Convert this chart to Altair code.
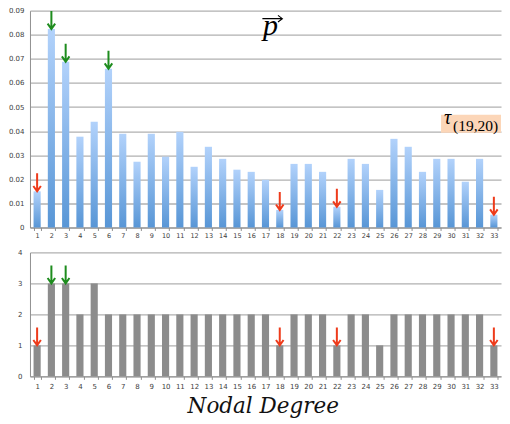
import altair as alt
import pandas as pd

# ---- data ----
nodes = list(range(1, 34))
p_values = [0.0150, 0.0824, 0.0688, 0.0377, 0.0439, 0.0659, 0.0389, 0.0273, 0.0389, 0.0294,
            0.0397, 0.0252, 0.0335, 0.0285, 0.0240, 0.0231, 0.0198, 0.0073, 0.0264, 0.0264,
            0.0231, 0.0086, 0.0285, 0.0264, 0.0156, 0.0368, 0.0335, 0.0231, 0.0285, 0.0285,
            0.0190, 0.0285, 0.0053]
degrees = [1, 3, 3, 2, 3, 2, 2, 2, 2, 2, 2, 2, 2, 2, 2, 2, 2, 1, 2, 2, 2, 1, 2, 2, 1, 2, 2, 2,
           2, 2, 2, 2, 1]
green_top = [2, 3, 6]
red_top = [1, 18, 22, 33]
green_bottom = [2, 3]
red_bottom = [1, 18, 22, 33]
y_ticks_top = [0, 0.01, 0.02, 0.03, 0.04, 0.05, 0.06, 0.07, 0.08, 0.09]
y_ticks_bottom = [0, 1, 2, 3, 4]
vec_label = "p"
tau_label = "τ"
tau_sub = "(19,20)"
x_title = "Nodal Degree"


def arrow_of(n, greens, reds):
    if n in greens:
        return "green"
    if n in reds:
        return "red"
    return ""


df = pd.DataFrame({
    "node": nodes,
    "p": p_values,
    "degree": degrees,
    "top_arrow": [arrow_of(n, green_top, red_top) for n in nodes],
    "bot_arrow": [arrow_of(n, green_bottom, red_bottom) for n in nodes],
})

W = 471.5
H_TOP = 217
H_BOT = 124
GRID = "#b0b0b0"
LABEL = "#404040"
ARROW_PATH = "M0,-2L0,-0.15M-0.42,-0.6L0,0L0.42,-0.6"
arrow_colors = alt.Scale(domain=["green", "red"], range=["#1e8c1e", "#ee3b1b"])

xscale = alt.Scale(paddingInner=0.5, paddingOuter=0.25)

x_axis_common = dict(labelAngle=0, tickBand="extent", tickSize=3, tickColor="#909090",
                     domainColor="#909090", labelFont="DejaVu Sans", labelColor=LABEL,
                     grid=False, labelOverlap=False)
x_axis_top = alt.Axis(title=None, labelFontSize=6.5, labelPadding=2, **x_axis_common)
x_axis_bot = alt.Axis(title=x_title, titleFont="DejaVu Serif", titleFontStyle="italic",
                      titleFontWeight="normal", titleFontSize=21.5, titleColor="#111111",
                      titleY=36, titleX=233, titleAlign="center",
                      titleBaseline="alphabetic", labelFontSize=7, labelPadding=3,
                      **x_axis_common)

top_y_scale = alt.Scale(domain=[0, 0.09], nice=False, zero=True)
y_axis_top = alt.Axis(values=y_ticks_top, tickCount=30, title=None, ticks=False,
                      labelPadding=6, labelFont="DejaVu Sans", labelFontSize=7,
                      labelColor=LABEL, labelOverlap=False,
                      labelExpr="datum.value == 0 ? '0' : format(datum.value, '.2f')",
                      gridColor=GRID, gridWidth=1.3, domainColor="#909090")

bot_y_scale = alt.Scale(domain=[0, 4], nice=False)
y_axis_bot = alt.Axis(values=y_ticks_bottom, tickCount=30, format="d", title=None,
                      ticks=False, labelPadding=8, labelFont="DejaVu Sans", labelFontSize=7,
                      labelColor=LABEL, labelOverlap=False,
                      gridColor=GRID, gridWidth=1.3, domainColor="#909090")


def xt(field="node:O"):
    return alt.X(field, sort=nodes, scale=xscale, axis=x_axis_top)


def xb(field="node:O"):
    return alt.X(field, sort=nodes, scale=xscale, axis=x_axis_bot)


def yt(field):
    return alt.Y(field, scale=top_y_scale, axis=y_axis_top)


def yb(field):
    return alt.Y(field, scale=bot_y_scale, axis=y_axis_bot)


# ---- top panel ----
bars_top = alt.Chart(df).mark_bar(
    color=alt.Gradient(gradient="linear",
                       stops=[alt.GradientStop(color="#b2d2fb", offset=0),
                              alt.GradientStop(color="#5896d6", offset=1)],
                       x1=1, x2=1, y1=0, y2=1)
).encode(x=xt(), y=yt("p:Q"))

arrows_top = alt.Chart(df).transform_filter("datum.top_arrow != ''").mark_point(
    shape=ARROW_PATH, size=324, filled=False, strokeWidth=2, opacity=1
).encode(x=xt(), y=yt("p:Q"),
         color=alt.Color("top_arrow:N", scale=arrow_colors, legend=None))

ann = pd.DataFrame({"node": [17], "p_y": [0.09], "arr_y": [0.0867],
                    "tau_node": [32], "tau_y": [0.0431], "sub_y": [0.0402]})
ann_base = alt.Chart(ann)

p_text = ann_base.mark_text(text=vec_label, font="Liberation Serif", fontStyle="italic",
                            fontSize=30, align="center", baseline="top", dx=5,
                            color="#000000").encode(x=xt(), y=yt("p_y:Q"))

p_arrow = ann_base.mark_point(shape="M-0.31,0L1.69,0M1.25,-0.33L1.69,0L1.25,0.33",
                              size=400, filled=False, strokeWidth=1.1, color="#000000",
                              opacity=1, clip=True).encode(x=xt(), y=yt("arr_y:Q"))

tau_bg = ann_base.mark_point(shape="M-2.143,-0.5L1.25,-0.5L1.25,0.5L-2.143,0.5Z",
                             size=1296, filled=True, color="#fcd6b8", opacity=1,
                             strokeWidth=0, clip=True).encode(x=xt("tau_node:O"),
                                                              y=yt("tau_y:Q"))

tau_t = ann_base.mark_text(text=tau_label, font="Liberation Serif", fontStyle="italic",
                           fontSize=20, align="center", baseline="alphabetic", dx=-32,
                           color="#000000", clip=True).encode(x=xt("tau_node:O"),
                                                              y=yt("tau_y:Q"))

tau_s = ann_base.mark_text(text=tau_sub, font="Liberation Serif", fontSize=15.5,
                           align="left", baseline="alphabetic", dx=-26.5,
                           color="#000000", clip=True).encode(x=xt("tau_node:O"),
                                                              y=yt("sub_y:Q"))

top = alt.layer(bars_top, arrows_top, tau_bg, tau_t, tau_s, p_text, p_arrow).properties(
    width=W, height=H_TOP)

# ---- bottom panel ----
bars_bot = alt.Chart(df).mark_bar(color="#8c8c8c").encode(x=xb(), y=yb("degree:Q"))

arrows_bot = alt.Chart(df).transform_filter("datum.bot_arrow != ''").mark_point(
    shape=ARROW_PATH, size=324, filled=False, strokeWidth=2, opacity=1
).encode(x=xb(), y=yb("degree:Q"),
         color=alt.Color("bot_arrow:N", scale=arrow_colors, legend=None))

bottom = alt.layer(bars_bot, arrows_bot).properties(width=W, height=H_BOT)

chart = alt.vconcat(top, bottom, spacing=9).properties(
    padding={"left": 0, "top": -1.5, "right": 0, "bottom": 1}, background="white"
).configure_view(stroke=None)

chart.save("out.html", embed_options={"renderer": "svg", "actions": False})
